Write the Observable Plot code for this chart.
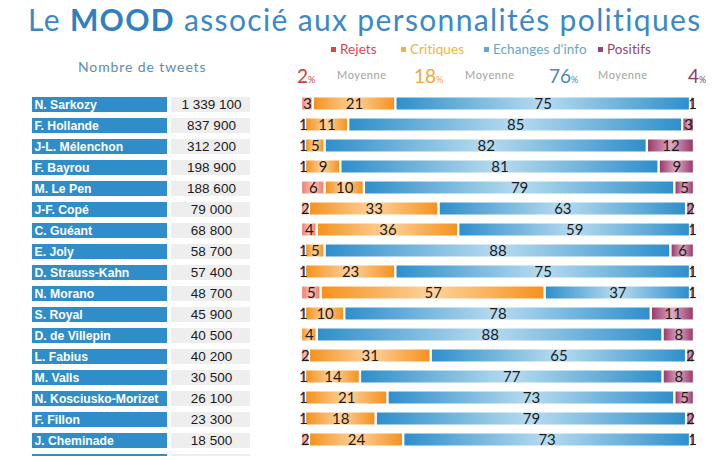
<!DOCTYPE html>
<html><head><meta charset="utf-8">
<script src="https://cdn.jsdelivr.net/npm/d3@7"></script>
<script src="https://cdn.jsdelivr.net/npm/@observablehq/plot@0.6"></script>
<style>
html,body{margin:0;padding:0;background:#fff;}
body{width:720px;height:456px;overflow:hidden;position:relative;font-family:"Lato","Noto Sans",sans-serif;}
.abs{position:absolute;}
#title{left:28px;top:1px;font-size:30px;line-height:36px;color:#3a89c5;white-space:nowrap;font-family:"Lato",sans-serif;font-weight:400;letter-spacing:1.35px;}
#title b{font-weight:700;color:#2f80c0;}
.leg{top:40px;font-size:13.5px;line-height:18px;white-space:nowrap;letter-spacing:0.1px;}
.leg .sq{display:inline-block;width:5px;height:5px;margin-right:4px;vertical-align:middle;position:relative;top:-1px;}
#ntw{left:78px;top:58px;font-size:14px;line-height:18px;color:#5b8db5;white-space:nowrap;letter-spacing:0.9px;}
.avg{top:64px;white-space:nowrap;line-height:24px;}
.avg .n{font-size:19px;}
.avg .p{font-size:9px;}
.moy{top:68px;font-size:11px;color:#a3a3a3;line-height:14px;letter-spacing:0.6px;}
svg{overflow:visible;}
</style></head><body>
<div id="title" class="abs">Le <b>MOOD</b> associé aux personnalités politiques</div>
<div id="ntw" class="abs">Nombre de tweets</div>
<div id="names" class="abs" style="left:32px;top:86px;"></div>
<div id="counts" class="abs" style="left:171px;top:86px;"></div>
<div id="bars" class="abs" style="left:297px;top:86px;"></div>
<script>
// ---- data ----
const names = ["N. Sarkozy","F. Hollande","J-L. Mélenchon","F. Bayrou","M. Le Pen","J-F. Copé","C. Guéant","E. Joly","D. Strauss-Kahn","N. Morano","S. Royal","D. de Villepin","L. Fabius","M. Valls","N. Kosciusko-Morizet","F. Fillon","J. Cheminade"];
const tweets = [1339100,837900,312200,198900,188600,79000,68800,58700,57400,48700,45900,40500,40200,30500,26100,23300,18500];
const categories = ["Rejets","Critiques","Echanges d'info","Positifs"];
const rejets    = [3,1,1,1,6,2,4,1,1,5,1,0,2,1,1,1,2];
const critiques = [21,11,5,9,10,33,36,5,23,57,10,4,31,14,21,18,24];
const echanges  = [75,85,82,81,79,63,59,88,75,37,78,88,65,77,73,79,73];
const positifs  = [1,3,12,9,5,2,1,6,1,1,11,8,2,8,5,2,1];
const averages  = [2,18,76,4];

// ---- styles / layout ----
const legendColors = ["#d9474d","#f2b33d","#6aa6c9","#93446f"];
const avgColors = ["#cf3a3c","#f0a73a","#4a88bb","#8a3b6a"];
const gradStops = [
  ["#ee8070","#fac2b6","#ee8070"],
  ["#f6921f","#fdd29c","#f6921f"],
  ["#2f8fcb","#b7dbef","#2f8fcb"],
  ["#9a3a6a","#dcaac3","#9a3a6a"]
];
const gradIds = ["gRej","gCri","gEch","gPos"];
const legendLeft = [331,401,484,598];
const avgLeft = [297,414,549,688];
const moyLeft = [337,465,598];

// legend
categories.forEach((c,i)=>{
  const s = d3.select("body").append("div").attr("class","abs leg")
    .style("left",legendLeft[i]+"px").style("color",legendColors[i]);
  s.append("span").attr("class","sq").style("background",legendColors[i]);
  s.append("span").text(c);
});
// averages
averages.forEach((a,i)=>{
  const d = d3.select("body").append("div").attr("class","abs avg").style("left",avgLeft[i]+"px").style("color",avgColors[i]);
  d.append("span").attr("class","n").text(a);
  d.append("span").attr("class","p").text("%");
  if (i<3) d3.select("body").append("div").attr("class","abs moy").style("left",moyLeft[i]+"px").text("Moyenne");
});

// table data
const fmt = d3.formatLocale({thousands:" ", grouping:[3], decimal:","}).format(",d");
const blank = " ";
const yDomain = [...names, blank];
const rows = names.map((n,i)=>({name:n, tweets:tweets[i]}));
const rowsAll = [...rows, {name:blank, tweets:null}];

const H = 391, MT = 4.4, MB = 2.3, PAD = 0.3;
const yOpt = {domain:yDomain, padding:PAD, axis:null};

const namesPlot = Plot.plot({
  width:135, height:H, marginTop:MT, marginBottom:MB, marginLeft:0, marginRight:0,
  y:yOpt,
  marks:[
    Plot.cell(rowsAll,{y:"name", fill:"#2f8dca"}),
    Plot.text(rows,{y:"name", text:"name", frameAnchor:"left", textAnchor:"start", dx:2, fill:"white",
      fontWeight:"bold", fontSize:12.2, fontFamily:"Liberation Sans"})
  ]
});
document.getElementById("names").append(namesPlot);

const countsPlot = Plot.plot({
  width:79, height:H, marginTop:MT, marginBottom:MB, marginLeft:0, marginRight:0,
  y:yOpt,
  marks:[
    Plot.cell(rowsAll,{y:"name", fill:"#eeeeee"}),
    Plot.text(rows,{y:"name", text:d=>fmt(d.tweets), fill:"#1a1a1a", fontSize:13.5, fontFamily:"Liberation Sans", dx:0.5})
  ]
});
document.getElementById("counts").append(countsPlot);

// stacked segments
const series = [rejets, critiques, echanges, positifs];
const segs = [];
names.forEach((n,i)=>{
  let acc = 0;
  series.forEach((s,k)=>{
    const v = s[i];
    if (v>0) segs.push({name:n, cat:categories[k], k, value:v, x1:acc, x2:acc+v});
    acc += v;
  });
});

function defsMark(){
  const ns = "http://www.w3.org/2000/svg";
  const g = document.createElementNS(ns,"defs");
  gradIds.forEach((id,k)=>{
    const lg = document.createElementNS(ns,"linearGradient");
    lg.setAttribute("id",id);
    lg.setAttribute("x1","0"); lg.setAttribute("x2","1"); lg.setAttribute("y1","0"); lg.setAttribute("y2","0");
    [[0,0],[0.5,1],[1,2]].forEach(([o,c])=>{
      const st = document.createElementNS(ns,"stop");
      st.setAttribute("offset",o); st.setAttribute("stop-color",gradStops[k][c]);
      lg.append(st);
    });
    g.append(lg);
  });
  return g;
}

const barsPlot = Plot.plot({
  width:410, height:H, marginTop:MT, marginBottom:MB, marginLeft:4, marginRight:13,
  x:{domain:[0,100], axis:null},
  y:yOpt,
  marks:[
    defsMark,
    Plot.barX(segs,{x1:"x1", x2:"x2", y:"name", fill:d=>`url(#${gradIds[d.k]})`,
      insetLeft:1.2, insetRight:1.2, insetTop:0.5, insetBottom:2.5}),
    Plot.text(segs,{x:d=>(d.x1+d.x2)/2, y:"name", text:"value", fill:"#1c1c1c", fontSize:15, dy:-1,
      fontFamily:"Lato"})
  ]
});
document.getElementById("bars").append(barsPlot);
</script>
</body></html>
